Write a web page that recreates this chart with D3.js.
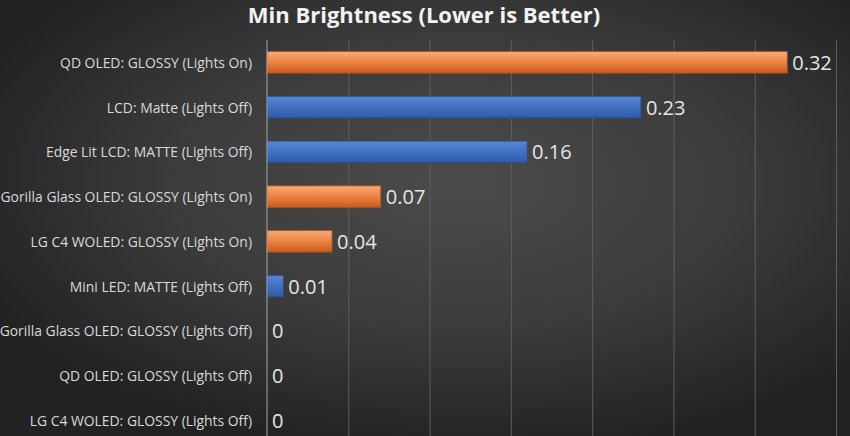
<!DOCTYPE html>
<html>
<head>
<meta charset="utf-8">
<script src="https://cdn.jsdelivr.net/npm/d3@7"></script>
<style>
html,body{margin:0;padding:0;background:#2a2a2a;}
svg{display:block;}
</style>
</head>
<body>
<svg id="chart" width="850" height="436"></svg>
<script>
const categories = [
  "QD OLED: GLOSSY (Lights On)",
  "LCD: Matte (Lights Off)",
  "Edge Lit LCD: MATTE (Lights Off)",
  "Gorilla Glass OLED: GLOSSY (Lights On)",
  "LG C4 WOLED: GLOSSY (Lights On)",
  "Mini LED: MATTE (Lights Off)",
  "Gorilla Glass OLED: GLOSSY (Lights Off)",
  "QD OLED: GLOSSY (Lights Off)",
  "LG C4 WOLED: GLOSSY (Lights Off)"
];
const values = [0.32, 0.23, 0.16, 0.07, 0.04, 0.01, 0, 0, 0];
const barTypes = ["glossy", "matte", "matte", "glossy", "glossy", "matte", "glossy", "glossy", "glossy"];
const xTicks = [0, 0.05, 0.1, 0.15, 0.2, 0.25, 0.3, 0.35];
const title = "Min Brightness (Lower is Better)";

const W = 850, H = 436;
const svg = d3.select("#chart");
const defs = svg.append("defs");

const bg = defs.append("radialGradient").attr("id","bg")
  .attr("cx", 0.54).attr("cy", 0.42).attr("r", 0.62);
bg.append("stop").attr("offset","0%").attr("stop-color","#4b4b4b");
bg.append("stop").attr("offset","55%").attr("stop-color","#3b3b3b");
bg.append("stop").attr("offset","100%").attr("stop-color","#222222");
svg.append("rect").attr("width",W).attr("height",H).attr("fill","url(#bg)");

const og = defs.append("linearGradient").attr("id","orangeG").attr("x1",0).attr("y1",0).attr("x2",0).attr("y2",1);
og.append("stop").attr("offset","0%").attr("stop-color","#f6ab7b");
og.append("stop").attr("offset","45%").attr("stop-color","#ee8746");
og.append("stop").attr("offset","100%").attr("stop-color","#c95a1e");
const bgr = defs.append("linearGradient").attr("id","blueG").attr("x1",0).attr("y1",0).attr("x2",0).attr("y2",1);
bgr.append("stop").attr("offset","0%").attr("stop-color","#5a86d2");
bgr.append("stop").attr("offset","50%").attr("stop-color","#4270c2");
bgr.append("stop").attr("offset","100%").attr("stop-color","#2f5aa8");

const x0 = 267, plotTop = 40;
const x = d3.scaleLinear().domain([0, 0.35]).range([x0, 836]);
const y = d3.scaleBand().domain(categories).range([plotTop, plotTop + 44.75*9]).paddingInner(0.52).paddingOuter(0.26);

// gridlines
svg.append("g")
  .attr("transform", `translate(0,${plotTop})`)
  .call(d3.axisBottom(x).tickValues(xTicks.slice(1)).tickSize(H - plotTop).tickFormat(""))
  .call(g => g.select(".domain").remove())
  .call(g => g.selectAll("line").attr("stroke","#5e5e5e").attr("stroke-width",1));

// bars
svg.append("g").selectAll("rect").data(values).join("rect")
  .attr("x", x(0))
  .attr("y", (d,i) => y(categories[i]))
  .attr("width", d => x(d) - x(0))
  .attr("height", y.bandwidth())
  .attr("fill", (d,i) => barTypes[i] === "glossy" ? "url(#orangeG)" : "url(#blueG)")
  .attr("stroke", (d,i) => barTypes[i] === "glossy" ? "#b4541c" : "#2a4f96")
  .attr("stroke-width", d => d > 0 ? 0.8 : 0);

// y axis line and labels
svg.append("g")
  .attr("transform", `translate(${x0},0)`)
  .call(d3.axisLeft(y).tickSize(0).tickPadding(15))
  .call(g => g.select(".domain").attr("d", `M0,${plotTop}V${H}`).attr("stroke","#a6a6a6").attr("stroke-width",1))
  .call(g => g.selectAll("text").attr("fill","#d9d9d9").attr("dy","0.4em")
    .style("font-family","'Open Sans', sans-serif").style("font-size","13.9px"));

// value labels
svg.append("g").selectAll("text").data(values).join("text")
  .attr("x", d => x(d) + 5)
  .attr("y", (d,i) => y(categories[i]) + y.bandwidth()/2)
  .attr("dy", "0.38em")
  .attr("fill", "#e6e6e6")
  .style("font-family","'Open Sans', sans-serif")
  .style("font-size","20px")
  .text(d => d3.format("~g")(d));

// title
svg.append("text")
  .attr("x", 424).attr("y", 23)
  .attr("text-anchor","middle")
  .attr("fill","#f2f2f2")
  .style("font-family","'Open Sans', sans-serif")
  .style("font-weight","bold")
  .style("font-size","22px")
  .text(title);
</script>
</body>
</html>
